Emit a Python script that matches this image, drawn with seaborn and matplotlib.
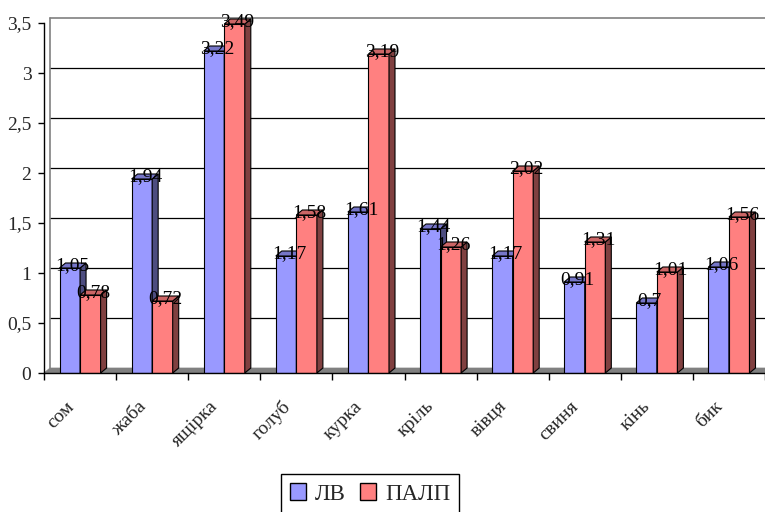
import matplotlib
matplotlib.use("Agg")
import matplotlib.pyplot as plt
from matplotlib.patches import Polygon, Patch
from matplotlib.ticker import FuncFormatter, FixedLocator
from matplotlib.transforms import ScaledTranslation
import pandas as pd
import seaborn as sns

categories = ["сом", "жаба", "ящірка", "голуб", "курка", "кріль", "вівця", "свиня", "кінь", "бик"]
lv = [1.05, 1.94, 3.22, 1.17, 1.61, 1.44, 1.17, 0.91, 0.7, 1.06]
palp = [0.78, 0.72, 3.49, 1.58, 3.19, 1.26, 2.02, 1.31, 1.01, 1.56]
series = ["ЛВ", "ПАЛП"]
y_ticks = [0, 0.5, 1, 1.5, 2, 2.5, 3, 3.5]

df = pd.DataFrame({
    "category": categories * 2,
    "series": [series[0]] * len(lv) + [series[1]] * len(palp),
    "value": lv + palp,
})

sns.set_style("white")
plt.rcParams["font.family"] = ["Liberation Serif", "DejaVu Serif"]

FW, FH = 765, 512
fig = plt.figure(figsize=(FW / 100, FH / 100), dpi=100)
L, R, B, T = 44, 765, 373, 23
ax = fig.add_axes([L / FW, 1 - B / FH, (R - L) / FW, (B - T) / FH])

front = {series[0]: "#9999FF", series[1]: "#FF8080"}
top_c = {series[0]: "#7676C8", series[1]: "#CC6666"}
side_c = {series[0]: "#4D4D80", series[1]: "#804040"}

sns.barplot(data=df, x="category", y="value", hue="series", palette=front,
            width=0.57, saturation=1, edgecolor="black", linewidth=0.8,
            legend=False, ax=ax)

xmin, xmax = -0.5, len(categories) - 0.5
ymin, ymax = 0, 3.5
ax.set_xlim(xmin, xmax)
ax.set_ylim(ymin, ymax)

# depth of the pseudo-3D extrusion, in data units
dx = 6 / ((R - L) / (xmax - xmin))
dy = 5 / ((B - T) / (ymax - ymin))

# floor, back wall outline and gridlines
ax.add_patch(Polygon([(xmin, 0), (xmax, 0), (xmax + dx, dy), (xmin + dx, dy)],
                     closed=True, facecolor="#808080", edgecolor="#808080",
                     lw=0.5, zorder=1, clip_on=False))
for v in y_ticks[1:-1]:
    ax.plot([xmin + dx, xmax + dx], [v + dy, v + dy], color="black", lw=0.9,
            zorder=0.5, clip_on=False)
ax.plot([xmin + dx, xmax + dx], [ymax + dy, ymax + dy], color="#808080", lw=1.2,
        zorder=0.5, clip_on=False)
ax.plot([xmin + dx, xmin + dx], [dy, ymax + dy], color="#808080", lw=1.2,
        zorder=0.5, clip_on=False)

# extrude each bar: right side and top face, plus its value label
n = len(categories)
for i, p in enumerate(ax.patches[:2 * n]):
    s = series[i // n]
    vals = lv if s == series[0] else palp
    val = vals[i % n]
    base_z = 3 if s == series[0] else 5
    p.set_zorder(base_z)
    x0, w, h = p.get_x(), p.get_width(), p.get_height()
    ax.add_patch(Polygon([(x0 + w, 0), (x0 + w + dx, dy), (x0 + w + dx, h + dy), (x0 + w, h)],
                         closed=True, facecolor=side_c[s], edgecolor="black",
                         lw=0.8, zorder=base_z + 0.5, clip_on=False))
    ax.add_patch(Polygon([(x0, h), (x0 + dx, h + dy), (x0 + w + dx, h + dy), (x0 + w, h)],
                         closed=True, facecolor=top_c[s], edgecolor="black",
                         lw=0.8, zorder=base_z + 0.5, clip_on=False))
    ax.text(x0 + w / 2 + dx / 2, h + dy / 2, f"{val:g}".replace(".", ","),
            ha="center", va="center", fontsize=14, color="black", zorder=10)

# axes styling
for sp in ["top", "right"]:
    ax.spines[sp].set_visible(False)
for sp in ["left", "bottom"]:
    ax.spines[sp].set_color("black")
    ax.spines[sp].set_linewidth(1.0)
    ax.spines[sp].set_zorder(8)

ax.yaxis.set_major_locator(FixedLocator(y_ticks))
ax.yaxis.set_major_formatter(FuncFormatter(lambda v, _: f"{v:g}".replace(".", ",")))
ax.tick_params(axis="y", which="major", direction="out", length=4, width=1,
               color="black", labelsize=14, pad=5, left=True)

ax.set_xticks(range(n))
ax.set_xticklabels(categories, rotation=45, ha="right", rotation_mode="anchor")
ax.xaxis.set_minor_locator(FixedLocator([xmin + k for k in range(n + 1)]))
ax.tick_params(axis="x", which="major", length=0, labelsize=14, pad=10)
ax.tick_params(axis="x", which="minor", direction="out", length=5, width=1,
               color="black", bottom=True)
shift = ScaledTranslation(-15 / 100, -11 / 100, fig.dpi_scale_trans)
for lbl in ax.get_xticklabels():
    lbl.set_transform(lbl.get_transform() + shift)
ax.set_xlabel("")
ax.set_ylabel("")
ax.grid(False)
ax.set_facecolor("none")

handles = [Patch(facecolor=front[s], edgecolor="black", lw=1.0) for s in series]
leg = fig.legend(handles, series, loc="center", bbox_to_anchor=(370 / FW, 1 - 494 / FH),
                 ncol=2, frameon=True, fancybox=False, framealpha=1,
                 edgecolor="black", fontsize=16.5, handlelength=0.7, handleheight=0.7,
                 handletextpad=0.4, columnspacing=0.6, borderpad=0.4)
leg.get_frame().set_linewidth(1.0)

fig.savefig("out.png", dpi=100)
